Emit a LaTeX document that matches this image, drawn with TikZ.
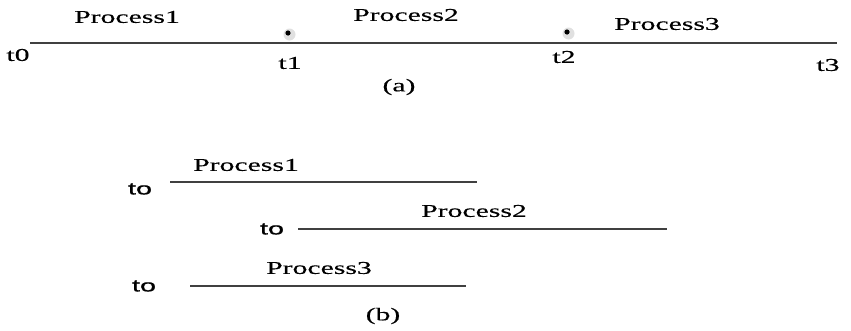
\documentclass[tikz,border=0pt]{standalone}
\usepackage{fontspec}
\setmainfont{Liberation Serif}[FakeStretch=1.65,FakeBold=0.4]
\newfontfamily\tofont{Liberation Sans}[FakeStretch=1.7,FakeBold=0.8]

\tikzset{
  lbl/.style={inner sep=0pt, font=\fontsize{18}{21}\selectfont},
  tolbl/.style={inner sep=0pt, font=\tofont\fontsize{17}{20}\selectfont},
  tline/.style={draw=black!75, line width=2.2pt},
  pline/.style={draw=black!75, line width=1.6pt},
}

\begin{document}
\begin{tikzpicture}[x=1pt,y=-1pt]
  \useasboundingbox (0,0) rectangle (851,330);
  % (a) one time line
  \coordinate (a0) at ( 30, 43);
  \coordinate (a3) at (837, 43);
  \draw[tline] (a0) -- (a3);
  \node[lbl] (p1a) at (127, 17) {Process1};
  \node[lbl] (p2a) at (406, 15) {Process2};
  \node[lbl] (p3a) at (667, 24) {Process3};
  \node[lbl] (t0)  at ( 18, 55) {t0};
  \node[lbl] (t1)  at (290, 63) {t1};
  \node[lbl] (t2)  at (564, 57) {t2};
  \node[lbl] (t3)  at (828, 65) {t3};
  \foreach \x/\y in {288/33, 567/32} {
    \fill[black!12] (\x+1.5,\y+1.5) circle (6);
    \fill[black] (\x,\y) circle (2.6);
  }
  \node[lbl] (capa) at (399, 87) {(a)};
  % (b) three lines
  \node[tolbl] (to1) at (140, 189) {to};
  \coordinate (b1s) at (170, 182);
  \coordinate (b1e) at (477, 182);
  \draw[pline] (b1s) -- (b1e);
  \node[lbl] (p1b) at (246, 165) {Process1};
  \node[tolbl] (to2) at (272, 229) {to};
  \coordinate (b2s) at (298, 229);
  \coordinate (b2e) at (667, 229);
  \draw[pline] (b2s) -- (b2e);
  \node[lbl] (p2b) at (474, 211) {Process2};
  \node[tolbl] (to3) at (144, 286) {to};
  \coordinate (b3s) at (190, 286);
  \coordinate (b3e) at (466, 286);
  \draw[pline] (b3s) -- (b3e);
  \node[lbl] (p3b) at (319, 268) {Process3};
  \node[lbl] (capb) at (383, 316) {(b)};
\end{tikzpicture}
\end{document}
